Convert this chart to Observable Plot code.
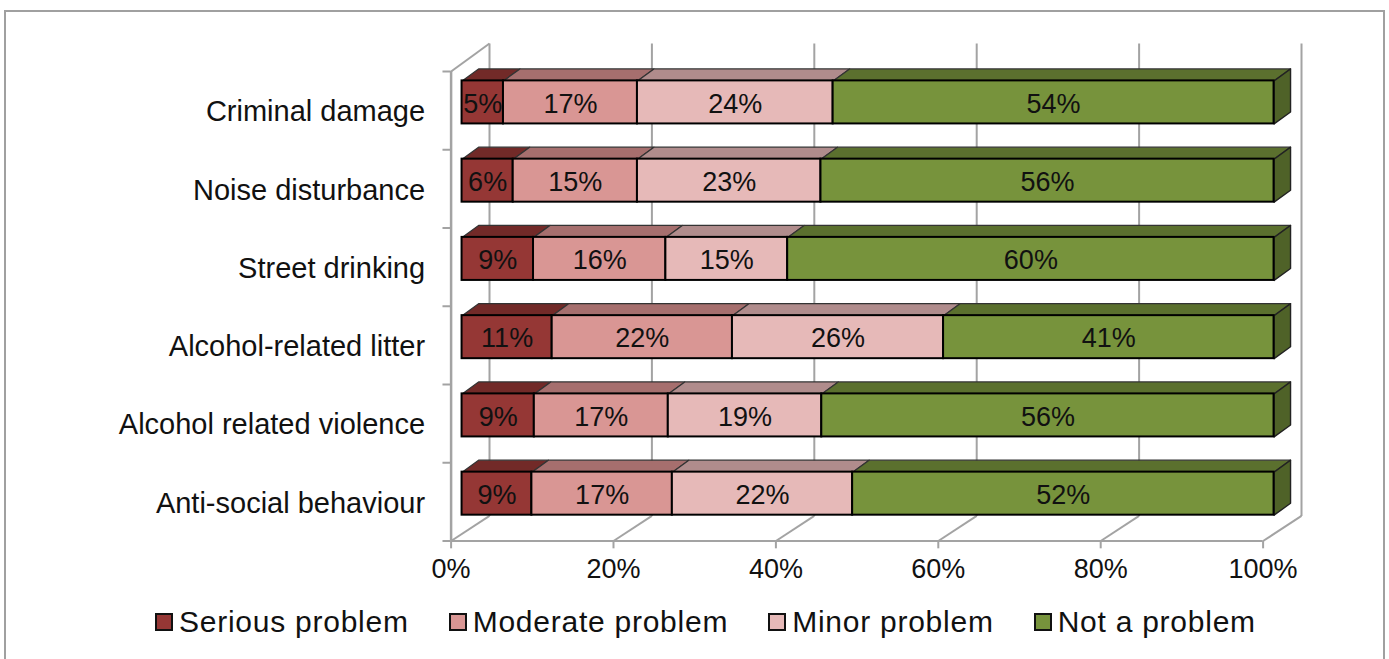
<!DOCTYPE html>
<html><head><meta charset="utf-8">
<script src="https://cdn.jsdelivr.net/npm/d3@7"></script>
<script src="https://cdn.jsdelivr.net/npm/@observablehq/plot@0.6"></script>
<style>
html,body{margin:0;padding:0;background:#fff;overflow:hidden;height:659px;}
body{font-family:"Liberation Sans",Arial,sans-serif;position:relative;}
#frame{position:absolute;left:4px;top:10px;width:1377px;height:660px;border:2px solid #a0a0a0;box-sizing:content-box;pointer-events:none;}
#chart svg{display:block;}
#legend{display:flex;gap:40px;padding-left:155px;margin-top:6px;font-size:30px;letter-spacing:.75px;line-height:42px;color:#111;position:relative;}
#legend .item{display:flex;align-items:center;gap:6px;}
#legend i{display:block;width:14px;height:14px;border:2px solid #111;}
</style></head>
<body>
<div id="frame"></div>
<div id="chart"></div>
<div id="legend"></div>
<script>
const categories = ["Criminal damage","Noise disturbance","Street drinking","Alcohol-related litter","Alcohol related violence","Anti-social behaviour"];
const seriesNames = ["Serious problem","Moderate problem","Minor problem","Not a problem"];
const serious  = [5.1, 6.3, 8.8, 11.1, 8.9, 8.6];
const moderate = [16.5, 15.3, 16.3, 22.2, 16.5, 17.3];
const minor    = [24.1, 22.6, 15.0, 26.0, 18.9, 22.2];
const notProb  = [54.3, 55.8, 59.9, 40.7, 55.7, 51.9];
const xTicks = [0,20,40,60,80,100];
const frontColors = ["#953735","#D99694","#E6B9B8","#77933C"];
const topColors   = ["#722A28","#A66F6E","#B08C8C","#5B702E"];
const sideColor = "#4F6228";

const values = [serious, moderate, minor, notProb];
// oblique projection of the 3-D chart, expressed in scale units
const frontX = 1.35, depthX = 2.03, depthY = 0.153;
const barTop = 0.12, barBottom = 0.67;
const wallX = 4.73, wallY = 0.32, wallTop = -0.358;

const segs = [];
categories.forEach((c, r) => {
  let acc = 0;
  values.forEach((v, s) => {
    segs.push({cat:c, row:r, series:seriesNames[s], s, value:v[r], x1:acc+frontX, x2:acc+v[r]+frontX,
               y1:r+barTop, y2:r+barBottom});
    acc += v[r];
  });
});
const poly = (id, pts) => pts.map(([x,y]) => ({id, x, y}));
const topFace = d => poly(d.row+"-"+d.s, [[d.x1,d.y1],[d.x2,d.y1],[d.x2+depthX,d.y1-depthY],[d.x1+depthX,d.y1-depthY],[d.x1,d.y1]]);
const sideFace = d => poly("side"+d.row, [[d.x2,d.y1],[d.x2+depthX,d.y1-depthY],[d.x2+depthX,d.y2-depthY],[d.x2,d.y2],[d.x2,d.y1]]);

const gridColor = "#a3a3a3";
const rowTicks = d3.range(0, categories.length+1);

const plot = Plot.plot({
  width:1389, height:595, marginLeft:450.6, marginRight:126.4, marginTop:71, marginBottom:54.5,
  style:{fontFamily:'"Liberation Sans",Arial,sans-serif', background:"transparent", color:"#111"},
  x:{domain:[0,100], label:null},
  y:{domain:[0,6], reverse:true, label:null},
  color:{domain:seriesNames, range:frontColors},
  marks:[
    // walls and floor
    Plot.link(xTicks,{x1:d=>d+wallX,x2:d=>d+wallX,y1:wallTop,y2:6-wallY,stroke:gridColor,strokeWidth:2}),
    Plot.link(xTicks,{x1:d=>d,x2:d=>d+wallX,y1:6,y2:6-wallY,stroke:gridColor,strokeWidth:2}),
    Plot.link([0],{x1:0,x2:wallX,y1:0,y2:wallTop,stroke:gridColor,strokeWidth:2}),
    Plot.ruleX([0],{y1:0,y2:6,stroke:gridColor,strokeWidth:2.5}),
    Plot.ruleY([6],{x1:0,x2:100,stroke:gridColor,strokeWidth:2}),
    Plot.ruleX(xTicks,{y1:6,y2:6.1,stroke:gridColor,strokeWidth:2}),
    Plot.ruleY(rowTicks,{x1:-1,x2:0,stroke:gridColor,strokeWidth:2}),
    // axes labels
    Plot.axisX({ticks:xTicks,tickFormat:d=>d+"%",tickSize:0,tickPadding:18,fontSize:27,anchor:"bottom",label:null}),
    Plot.axisY({ticks:categories.map((_,i)=>i+0.5),tickFormat:d=>categories[Math.floor(d)],tickSize:0,tickPadding:26,fontSize:29,dy:1.5,anchor:"left",label:null}),
    // bar faces
    ...seriesNames.map((n,s)=>Plot.line(segs.filter(d=>d.s===s).flatMap(topFace),{x:"x",y:"y",z:"id",fill:topColors[s],stroke:"#333",strokeWidth:1.2,curve:"linear"})),
    Plot.line(segs.filter(d=>d.s===3).flatMap(sideFace),{x:"x",y:"y",z:"id",fill:sideColor,stroke:"#222",strokeWidth:1.4,curve:"linear"}),
    Plot.rect(segs,{x1:"x1",x2:"x2",y1:"y1",y2:"y2",fill:"series",stroke:"#000",strokeWidth:2}),
    Plot.text(segs,{x:d=>(d.x1+d.x2)/2,y:d=>(d.y1+d.y2)/2+0.02,text:d=>Math.round(d.value)+"%",fontSize:27,fill:"#111"})
  ]
});
document.getElementById("chart").append(plot);
const leg = d3.select("#legend");
seriesNames.forEach((n,i)=>{
  const it = leg.append("div").attr("class","item");
  it.append("i").style("background",frontColors[i]);
  it.append("span").text(n);
});
</script>
</body></html>
